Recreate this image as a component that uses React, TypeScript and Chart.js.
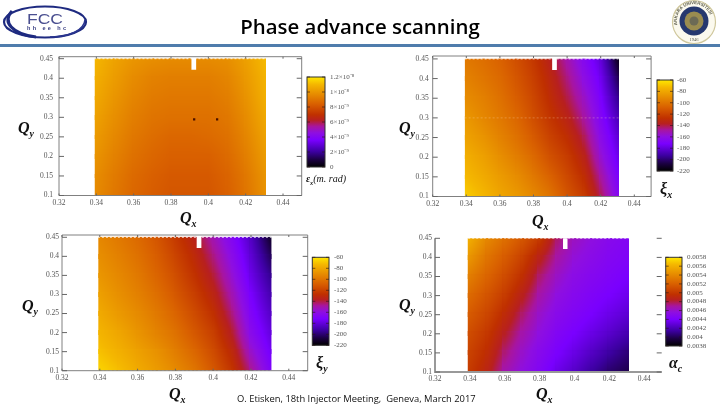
import React, { useEffect, useRef } from "react";
import Chart from "chart.js/auto";

// ---------- data ----------
const qxNodes = [0.339, 0.35, 0.36, 0.37, 0.38, 0.39, 0.4, 0.41, 0.42, 0.431];
const qyNodes = [0.45, 0.4, 0.35, 0.3, 0.25, 0.2, 0.15, 0.1];
const qxTicks = [0.32, 0.34, 0.36, 0.38, 0.4, 0.42, 0.44];
const qyTicks = [0.1, 0.15, 0.2, 0.25, 0.3, 0.35, 0.4, 0.45];

// emittance, in units of 1e-9 m.rad
const emittance = [
  [11.0, 10.4, 10.0, 9.8, 9.7, 9.7, 9.7, 9.8, 10.3, 11.1],
  [10.8, 10.2, 9.7, 9.4, 9.3, 9.3, 9.3, 9.5, 10.1, 10.9],
  [10.6, 10.0, 9.5, 9.2, 9.1, 9.1, 9.1, 9.3, 9.9, 10.8],
  [10.4, 9.8, 9.3, 9.0, 8.9, 8.9, 8.9, 9.1, 9.7, 10.6],
  [10.2, 9.6, 9.1, 8.8, 8.6, 8.6, 8.7, 8.9, 9.5, 10.4],
  [10.0, 9.4, 8.9, 8.6, 8.4, 8.4, 8.4, 8.7, 9.3, 10.2],
  [9.8, 9.2, 8.7, 8.4, 8.2, 8.2, 8.2, 8.5, 9.1, 10.0],
  [9.7, 9.1, 8.6, 8.3, 8.1, 8.1, 8.1, 8.4, 9.0, 9.9],
];
const chromaX = [
  [-98, -102, -107, -115, -124, -136, -150, -165, -180, -215],
  [-94, -99, -104, -112, -121, -132, -145, -160, -175, -205],
  [-90, -95, -101, -109, -118, -129, -140, -154, -171, -196],
  [-85, -92, -98, -105, -115, -125, -134, -148, -167, -188],
  [-81, -87, -94, -101, -110, -120, -128, -141, -162, -182],
  [-76, -82, -89, -96, -104, -114, -122, -134, -156, -177],
  [-72, -78, -84, -90, -98, -107, -117, -128, -148, -172],
  [-67, -73, -80, -85, -92, -100, -112, -122, -141, -167],
];
const chromaY = [
  [-92, -98, -104, -112, -123, -135, -151, -167, -185, -212],
  [-89, -95, -101, -109, -119, -130, -145, -162, -181, -204],
  [-86, -92, -98, -106, -115, -126, -139, -157, -177, -196],
  [-82, -89, -95, -102, -111, -121, -133, -151, -172, -190],
  [-78, -85, -91, -98, -106, -116, -127, -145, -168, -185],
  [-74, -80, -87, -94, -101, -111, -121, -138, -163, -180],
  [-70, -76, -82, -88, -96, -105, -116, -131, -155, -175],
  [-65, -71, -78, -84, -91, -99, -111, -125, -146, -170],
];
// momentum compaction, in units of 1e-4
const compaction = [
  [56.0, 54.0, 52.8, 51.6, 50.2, 47.6, 46.3, 45.6, 45.0, 44.6],
  [54.8, 53.0, 51.8, 50.5, 48.7, 46.9, 45.8, 45.2, 44.7, 44.4],
  [53.6, 52.2, 51.0, 49.6, 47.6, 46.2, 45.3, 44.8, 44.4, 44.0],
  [52.6, 51.4, 50.2, 48.6, 46.8, 45.6, 44.9, 44.4, 44.0, 43.5],
  [51.8, 50.7, 49.3, 47.6, 46.1, 45.1, 44.5, 44.0, 43.4, 42.8],
  [51.1, 50.0, 48.4, 46.8, 45.6, 44.6, 44.0, 43.3, 42.6, 41.8],
  [50.6, 49.4, 47.5, 46.1, 45.0, 44.1, 43.3, 42.4, 41.5, 40.6],
  [50.2, 48.8, 46.7, 45.6, 44.6, 43.4, 42.5, 41.4, 40.4, 39.8],
];

const emittanceBar = [12, 10, 8, 6, 4, 2, 0];
const emittanceBarText = ["1.2×10⁻⁸", "1×10⁻⁸", "8×10⁻⁹", "6×10⁻⁹", "4×10⁻⁹", "2×10⁻⁹", "0"];
const chromaBar = [-60, -80, -100, -120, -140, -160, -180, -200, -220];
const chromaBarText = ["-60", "-80", "-100", "-120", "-140", "-160", "-180", "-200", "-220"];
const compactionBar = [58, 56, 54, 52, 50, 48, 46, 44, 42, 40, 38];
const compactionBarText = ["0.0058", "0.0056", "0.0054", "0.0052", "0.005", "0.0048", "0.0046", "0.0044", "0.0042", "0.004", "0.0038"];

const gapQxP1 = 0.3922;
const gapQxP2 = 0.3925;
const gapQxP3 = 0.3925;
const gapQxP4 = 0.3947;
const gapQyBottom = 0.422;
const dipQx = [0.3924, 0.4047];
const dipQy = [0.295, 0.295];

// ---------- palette ----------
const paletteStops: [number, number[]][] = [
  [0, [0, 0, 0]],
  [0.08, [26, 0, 64]],
  [0.17, [60, 0, 160]],
  [0.3, [122, 0, 255]],
  [0.38, [143, 15, 224]],
  [0.45, [168, 21, 160]],
  [0.52, [184, 32, 32]],
  [0.58, [192, 48, 0]],
  [0.7, [217, 96, 0]],
  [0.82, [232, 144, 0]],
  [0.92, [245, 184, 0]],
  [1, [255, 232, 0]],
];
function palette(t: number) {
  const c = Math.min(1, Math.max(0, t));
  for (let i = 1; i < paletteStops.length; i++) {
    const [t1, a] = paletteStops[i - 1];
    const [t2, b] = paletteStops[i];
    if (c <= t2) {
      const f = (c - t1) / (t2 - t1);
      return [a[0] + (b[0] - a[0]) * f, a[1] + (b[1] - a[1]) * f, a[2] + (b[2] - a[2]) * f];
    }
  }
  return paletteStops[paletteStops.length - 1][1];
}

// ---------- panels ----------
const panels = [
  {
    z: emittance, gap: gapQxP1, gapPx: 4.7, frame: { l: 59, r: 301.7, t: 56.7, b: 195.5 }, yMax: 0.4551, yPad: 6,
    bar: { l: 307, r: 325, t: 77, b: 167, min: 0, max: 12, v: emittanceBar, s: emittanceBarText, x: 330 }, dips: true, rowLine: false, open: false,
  },
  {
    z: chromaX, gap: gapQxP2, gapPx: 4.7, frame: { l: 432.7, r: 651.1, t: 56, b: 196.5 }, yMax: 0.4574, yPad: 4,
    bar: { l: 657, r: 673, t: 80, b: 171, min: -220, max: -60, v: chromaBar, s: chromaBarText, x: 677 }, dips: false, rowLine: true, open: false,
  },
  {
    z: chromaY, gap: gapQxP3, gapPx: 4.7, frame: { l: 62, r: 307.7, t: 235, b: 370.7 }, yMax: 0.456, yPad: 3,
    bar: { l: 312.3, r: 329, t: 257.3, b: 345.3, min: -220, max: -60, v: chromaBar, s: chromaBarText, x: 334 }, dips: false, rowLine: false, open: false,
  },
  {
    z: compaction, gap: gapQxP4, gapPx: 4.5, frame: { l: 435, r: 661.7, t: 238.3, b: 372 }, yMax: 0.45, yPad: 3,
    bar: { l: 665.7, r: 682, t: 257.3, b: 346, min: 38, max: 58, v: compactionBar, s: compactionBarText, x: 687 }, dips: false, rowLine: false, open: true,
  },
];

const axisFont = { family: '"Liberation Serif", serif', size: 7.5 };

function buildCells(z: number[][]) {
  const cells: any[] = [];
  for (let j = 0; j < qyNodes.length - 1; j++) {
    for (let i = 0; i < qxNodes.length - 1; i++) {
      cells.push({
        x: (qxNodes[i] + qxNodes[i + 1]) / 2,
        y: (qyNodes[j] + qyNodes[j + 1]) / 2,
        x0: qxNodes[i], x1: qxNodes[i + 1], yLow: qyNodes[j + 1], yHigh: qyNodes[j],
        tl: z[j][i], tr: z[j][i + 1], bl: z[j + 1][i], br: z[j + 1][i + 1],
      });
    }
  }
  return cells;
}

function cellImage(ctx: any, min: number, max: number) {
  const r = ctx.raw;
  if (!r) return "rect";
  const sx = ctx.chart.scales.x;
  const sy = ctx.chart.scales.y;
  const px0 = sx.getPixelForValue(r.x0), px1 = sx.getPixelForValue(r.x1);
  const pyT = sy.getPixelForValue(r.yHigh), pyB = sy.getPixelForValue(r.yLow);
  const cx = sx.getPixelForValue(r.x), cy = sy.getPixelForValue(r.y);
  const dataL = sx.getPixelForValue(qxNodes[0]), dataR = sx.getPixelForValue(qxNodes[qxNodes.length - 1]);
  const dataT = sy.getPixelForValue(qyNodes[0]), dataB = sy.getPixelForValue(qyNodes[qyNodes.length - 1]);
  const W = 2 * Math.ceil((px1 - px0) / 2 + 1.5);
  const H = 2 * Math.ceil((pyB - pyT) / 2 + 1.5);
  if (!Number.isFinite(W) || !Number.isFinite(H) || W <= 0 || H <= 0) return "rect";
  const c = document.createElement("canvas");
  c.width = W;
  c.height = H;
  const g = c.getContext("2d")!;
  const img = g.createImageData(W, H);
  for (let a = 0; a < H; a++) {
    const Y = cy - H / 2 + a + 0.5;
    const v = Math.min(1, Math.max(0, (Y - pyT) / (pyB - pyT)));
    for (let b = 0; b < W; b++) {
      const X = cx - W / 2 + b + 0.5;
      const u = Math.min(1, Math.max(0, (X - px0) / (px1 - px0)));
      const val = (r.tl * (1 - u) + r.tr * u) * (1 - v) + (r.bl * (1 - u) + r.br * u) * v;
      const col = palette((val - min) / (max - min));
      const k = (a * W + b) * 4;
      img.data[k] = col[0];
      img.data[k + 1] = col[1];
      img.data[k + 2] = col[2];
      img.data[k + 3] = X < dataL || X > dataR || Y < dataT || Y > dataB ? 0 : 255;
    }
  }
  g.putImageData(img, 0, 0);
  return c;
}

function makePlugin(p: any) {
  return {
    id: "panelDecor",
    afterDraw(chart: any) {
      const g = chart.ctx;
      const { left, right, top, bottom } = chart.chartArea;
      g.save();
      // frame and inward ticks from the scales
      g.strokeStyle = p.open ? "#999999" : "#808080";
      g.lineWidth = p.open ? 2 : 1;
      g.beginPath();
      if (p.open) {
        g.moveTo(left, top);
        g.lineTo(left, bottom);
        g.lineTo(right, bottom);
      } else {
        g.rect(left, top, right - left, bottom - top);
      }
      g.stroke();
      g.strokeStyle = "#666666";
      g.lineWidth = 1;
      g.beginPath();
      chart.scales.y.ticks.forEach((t: any) => {
        const y = chart.scales.y.getPixelForValue(t.value);
        g.moveTo(left, y);
        g.lineTo(left + 5, y);
        g.moveTo(right - 5, y);
        g.lineTo(right, y);
      });
      if (!p.open) {
        chart.scales.x.ticks.forEach((t: any) => {
          const x = chart.scales.x.getPixelForValue(t.value);
          g.moveTo(x, top);
          g.lineTo(x, top + 2);
          g.moveTo(x, bottom - 2);
          g.lineTo(x, bottom);
        });
      }
      g.stroke();
      // colour bar
      const b = p.bar;
      const grad = g.createLinearGradient(0, b.b, 0, b.t);
      paletteStops.forEach(([t, c]) => grad.addColorStop(t, `rgb(${c[0]},${c[1]},${c[2]})`));
      g.fillStyle = grad;
      g.fillRect(b.l, b.t, b.r - b.l, b.b - b.t);
      g.strokeStyle = "#333333";
      g.strokeRect(b.l, b.t, b.r - b.l, b.b - b.t);
      g.font = `7px ${axisFont.family}`;
      g.fillStyle = "#555555";
      g.textBaseline = "middle";
      g.textAlign = "left";
      b.v.forEach((v: number, i: number) => {
        const y = b.b - ((v - b.min) / (b.max - b.min)) * (b.b - b.t);
        g.beginPath();
        g.moveTo(b.l, y);
        g.lineTo(b.l + 3, y);
        g.moveTo(b.r - 3, y);
        g.lineTo(b.r, y);
        g.strokeStyle = "rgba(40,20,20,0.6)";
        g.stroke();
        g.fillText(b.s[i], b.x, y);
      });
      g.restore();
    },
  };
}

function makeChart(canvas: HTMLCanvasElement, p: any) {
  const f = p.frame;
  const yWidth = 40;
  const xHeight = 14;
  const line = (xs: number[], ys: number[], color: string, width: number, dash: number[] = []) => ({
    type: "scatter",
    data: xs.map((x, i) => ({ x, y: ys[i] })),
    showLine: true,
    pointRadius: 0,
    borderColor: color,
    borderWidth: width,
    borderDash: dash,
    borderCapStyle: "butt",
  });
  const first = qxNodes[0];
  const last = qxNodes[qxNodes.length - 1];
  const sets: any[] = [
    line([p.gap, p.gap], [gapQyBottom, 0.47], "#ffffff", p.gapPx),
    line([first, last], [0.45, 0.45], "rgba(255,255,255,0.8)", 1, [2, 2]),
    line([first, last], [0.1, 0.1], "rgba(255,255,255,0.8)", 1, [2, 2]),
  ];
  if (p.rowLine) sets.push(line([first, last], [0.3, 0.3], "rgba(255,220,180,0.3)", 1, [2, 2]));
  if (p.dips) {
    sets.push({
      type: "scatter",
      data: dipQx.map((x, i) => ({ x, y: dipQy[i] })),
      pointRadius: 1.6,
      pointStyle: "rect",
      backgroundColor: "#4a1000",
      borderWidth: 0,
    });
  }
  sets.push({
    type: "scatter",
    data: buildCells(p.z),
    pointRadius: 1,
    borderWidth: 0,
    pointStyle: (ctx: any) => cellImage(ctx, p.bar.min, p.bar.max),
  });
  return new Chart(canvas, {
    type: "scatter",
    data: { datasets: sets },
    plugins: [makePlugin(p)],
    options: {
      animation: false,
      responsive: false,
      events: [],
      layout: { padding: { left: f.l - yWidth, right: 720 - f.r, top: f.t, bottom: 405 - f.b - xHeight } },
      plugins: { legend: { display: false }, tooltip: { enabled: false }, title: { display: false } },
      scales: {
        x: {
          type: "linear",
          min: 0.32,
          max: 0.45,
          afterBuildTicks: (s: any) => { s.ticks = qxTicks.map((value) => ({ value })); },
          afterFit: (s: any) => { s.height = xHeight; },
          grid: { display: false, drawTicks: false },
          border: { display: false },
          ticks: { color: "#555555", font: axisFont, padding: 3, maxRotation: 0, autoSkip: false, callback: (v: any) => String(+(+v).toFixed(2)) },
        },
        y: {
          type: "linear",
          min: 0.1,
          max: p.yMax,
          afterBuildTicks: (s: any) => { s.ticks = qyTicks.map((value) => ({ value })); },
          afterFit: (s: any) => { s.width = yWidth; },
          grid: { display: false, drawTicks: false },
          border: { display: false },
          ticks: { color: "#555555", font: axisFont, padding: p.yPad, autoSkip: false, callback: (v: any) => String(+(+v).toFixed(2)) },
        },
      },
    } as any,
  } as any);
}

const mathFont = '"Liberation Serif", serif';
function Sym({ x, y, main, sub, size = 16, extra }: any) {
  return (
    <span style={{ position: "absolute", left: x, top: y, font: `italic bold ${size}px ${mathFont}`, lineHeight: 1, color: "#111", whiteSpace: "nowrap", filter: "blur(0.3px)" }}>
      {main}
      <sub style={{ fontSize: size * 0.62, lineHeight: 0 }}>{sub}</sub>
      {extra ? <span style={{ fontSize: size, fontWeight: 400 }}>{extra}</span> : null}
    </span>
  );
}

function FccLogo() {
  return (
    <svg width="92" height="42" style={{ position: "absolute", left: 0, top: 2, filter: "blur(0.35px)" }} viewBox="0 0 92 42">
      <ellipse cx="45" cy="20" rx="41" ry="15.5" fill="none" stroke="#1e2a80" strokeWidth="2.2" />
      <path d="M12 9 C 2 20, 12 32, 36 35" fill="none" stroke="#1e2a80" strokeWidth="3.2" />
      <path d="M50 35 C 70 35, 84 28, 85 18" fill="none" stroke="#2a3590" strokeWidth="1.6" />
      <text x="45" y="21.5" textAnchor="middle" fontFamily="'Liberation Sans', sans-serif" fontSize="15" fill="#4a4f90" textLength="36" lengthAdjust="spacingAndGlyphs">FCC</text>
      <text x="46.5" y="27.5" textAnchor="middle" fontFamily="'Liberation Sans', sans-serif" fontSize="5.5" fontWeight="bold" fill="#353b80" textLength="39">hh ee hc</text>
    </svg>
  );
}

function UniLogo() {
  return (
    <svg width="46" height="46" style={{ position: "absolute", left: 671, top: -1, filter: "blur(0.35px)" }} viewBox="0 0 46 46">
      <circle cx="23" cy="23" r="21.5" fill="#fbf9ee" stroke="#cfc79c" strokeWidth="1.2" />
      <circle cx="23" cy="22" r="14.5" fill="#26386e" />
      <circle cx="23" cy="22" r="9.5" fill="#9a8c50" />
      <circle cx="23" cy="22" r="4.5" fill="#6c6a55" />
      <defs><path id="ring" d="M6.2 26 A17.2 17.2 0 1 1 39.8 26" /></defs>
      <text fontFamily="'Liberation Sans', sans-serif" fontSize="4.4" fontWeight="bold" fill="#5a5a48">
        <textPath href="#ring">ANKARA ÜNİVERSİTESİ</textPath>
      </text>
      <text x="23" y="42" textAnchor="middle" fontFamily="'Liberation Serif', serif" fontSize="4.5" fill="#5a5a48">1946</text>
    </svg>
  );
}

export default function App() {
  const refs = useRef<(HTMLCanvasElement | null)[]>([]);
  useEffect(() => {
    document.body.style.margin = "0";
    const charts = panels.map((p, i) => makeChart(refs.current[i]!, p));
    return () => charts.forEach((c) => c.destroy());
  }, []);
  return (
    <div style={{ position: "fixed", left: 0, top: 0, width: 720, height: 405, overflow: "hidden", background: "#fff" }}>
      {panels.map((_, i) => (
        <canvas key={i} ref={(el) => { refs.current[i] = el; }} width={720} height={405}
          style={{ position: "absolute", left: 0, top: 0, width: 720, height: 405, filter: "blur(0.55px)" }} />
      ))}
      <FccLogo />
      <UniLogo />
      <div style={{ position: "absolute", left: 0, right: 0, top: 44, height: 2.5, background: "#4f7cac" }} />
      <div style={{ position: "absolute", left: 0, width: 720, top: 12, textAlign: "center", font: '600 20.4px "Open Sans", sans-serif', lineHeight: "28px", color: "#000", whiteSpace: "nowrap" }}>
        Phase advance scanning
      </div>
      <div style={{ position: "absolute", left: 237, top: 392, font: '9.4px "Open Sans", sans-serif', lineHeight: "13px", color: "#111", whiteSpace: "pre" }}>
        O. Etisken, 18th Injector Meeting,  Geneva, March 2017
      </div>
      <Sym x={18} y={120} main="Q" sub="y" />
      <Sym x={180} y={210} main="Q" sub="x" />
      <Sym x={399} y={120} main="Q" sub="y" />
      <Sym x={532} y={213} main="Q" sub="x" />
      <Sym x={22} y={298} main="Q" sub="y" />
      <Sym x={169} y={386} main="Q" sub="x" />
      <Sym x={399} y={297} main="Q" sub="y" />
      <Sym x={536} y={386} main="Q" sub="x" />
      <Sym x={306} y={174} main="ε" sub="x" size={10} extra="(m. rad)" />
      <Sym x={660} y={181} main="ξ" sub="x" />
      <Sym x={316} y={355} main="ξ" sub="y" />
      <Sym x={669} y={355} main="α" sub="c" />
    </div>
  );
}
